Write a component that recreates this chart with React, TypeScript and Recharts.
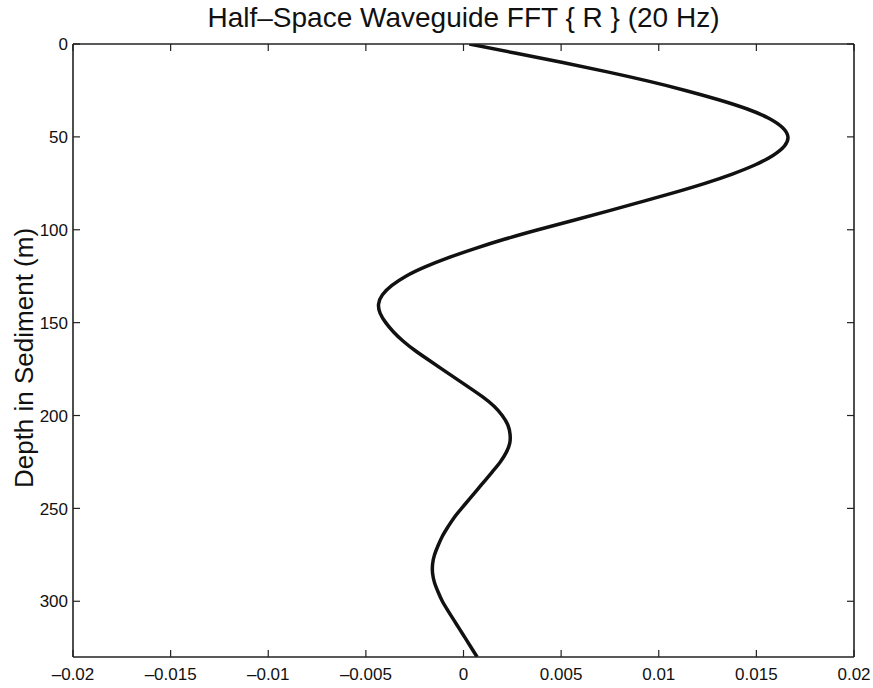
import React from 'react';
import { LineChart, Line, XAxis, YAxis, Label } from 'recharts';

const depths = [0, 5, 10, 15, 20, 25, 30, 35, 40, 45, 50, 55, 60, 65, 70, 75, 80, 85, 90, 95, 100, 105, 110, 115, 120, 125, 130, 135, 140, 145, 150, 155, 160, 165, 170, 175, 180, 185, 190, 195, 200, 205, 210, 215, 220, 225, 230, 235, 240, 245, 250, 255, 260, 265, 270, 275, 280, 285, 290, 295, 300, 305, 310, 315, 320, 325, 330];
const realR = [0.0003, 0.0027, 0.0051, 0.0074, 0.0095, 0.0114, 0.0131, 0.0146, 0.0157, 0.0164, 0.0167, 0.0165, 0.0159, 0.015, 0.0138, 0.0124, 0.0108, 0.0091, 0.0074, 0.0056, 0.0038, 0.0021, 0.0006, -0.0008, -0.002, -0.003, -0.0037, -0.0042, -0.0044, -0.0043, -0.004, -0.0036, -0.0031, -0.0025, -0.0018, -0.0011, -0.0004, 0.0003, 0.001, 0.0016, 0.002, 0.0023, 0.0024, 0.0024, 0.0022, 0.0019, 0.0015, 0.0011, 0.0007, 0.0003, -0.0001, -0.0005, -0.0008, -0.0011, -0.0013, -0.0015, -0.0016, -0.0016, -0.0015, -0.0013, -0.0011, -0.0008, -0.0005, -0.0002, 0.0001, 0.0004, 0.0007];
const xTicks = [-0.02, -0.015, -0.01, -0.005, 0, 0.005, 0.01, 0.015, 0.02];
const yTicks = [0, 50, 100, 150, 200, 250, 300];
const titleText = 'Half\u2013Space Waveguide FFT { R } (20 Hz)';
const yLabelText = 'Depth in Sediment (m)';

const data = depths.map((d, i) => ({ depth: d, r: realR[i] }));

const FONT = '"Liberation Sans", Arial, Helvetica, sans-serif';
const AXIS = '#222';
const TICK_LEN = 7;

const fmtX = (v: number) => String(v).replace('-', '\u2013');

const BottomTick = (props: any) => {
  const { x, y, payload } = props;
  return (
    <g>
      <line x1={x} y1={y} x2={x} y2={y - TICK_LEN} stroke={AXIS} strokeWidth={1.2} />
      <text x={x} y={y + 23} textAnchor="middle" fontSize={17} fontFamily={FONT} fill="#111">
        {fmtX(payload.value)}
      </text>
    </g>
  );
};

const TopTick = (props: any) => {
  const { x, y } = props;
  return <line x1={x} y1={y} x2={x} y2={y + TICK_LEN} stroke={AXIS} strokeWidth={1.2} />;
};

const LeftTick = (props: any) => {
  const { x, y, payload } = props;
  return (
    <g>
      <line x1={x} y1={y} x2={x + TICK_LEN} y2={y} stroke={AXIS} strokeWidth={1.2} />
      <text x={x - 5} y={y} dy="0.36em" textAnchor="end" fontSize={17} fontFamily={FONT} fill="#111">
        {String(payload.value)}
      </text>
    </g>
  );
};

const RightTick = (props: any) => {
  const { x, y } = props;
  return <line x1={x} y1={y} x2={x - TICK_LEN} y2={y} stroke={AXIS} strokeWidth={1.2} />;
};

export default function App() {
  return (
    <div style={{ position: 'absolute', left: 0, top: 0, width: 873, height: 688, background: '#fff' }}>
      <LineChart
        layout="vertical"
        width={873}
        height={688}
        data={data}
        margin={{ top: 43, right: 18, bottom: 0, left: 0 }}
      >
        <XAxis
          xAxisId={0}
          type="number"
          domain={[-0.02, 0.02]}
          ticks={xTicks}
          interval={0}
          allowDataOverflow
          height={31}
          tickSize={0}
          tickMargin={0}
          tickLine={false}
          axisLine={{ stroke: AXIS, strokeWidth: 1.6 }}
          tick={<BottomTick />}
        />
        <XAxis
          xAxisId="top"
          orientation="top"
          type="number"
          domain={[-0.02, 0.02]}
          ticks={xTicks}
          interval={0}
          allowDataOverflow
          height={1}
          tickSize={0}
          tickMargin={0}
          tickLine={false}
          axisLine={{ stroke: AXIS, strokeWidth: 1.6 }}
          tick={<TopTick />}
        >
          <Label
            content={(p: any) => {
              const vb = p.viewBox || { x: 73, y: 44, width: 781 };
              return (
                <text x={vb.x + vb.width / 2} y={27} textAnchor="middle" fontSize={28} fontFamily={FONT} fill="#111">
                  {titleText}
                </text>
              );
            }}
          />
        </XAxis>
        <YAxis
          yAxisId={0}
          type="number"
          dataKey="depth"
          domain={[0, 330]}
          ticks={yTicks}
          interval={0}
          allowDataOverflow
          width={73}
          tickSize={0}
          tickMargin={0}
          tickLine={false}
          axisLine={{ stroke: AXIS, strokeWidth: 1.6 }}
          tick={<LeftTick />}
        >
          <Label
            content={() => {
              const cy = 358;
              return (
                <text x={24} y={cy} transform={`rotate(-90 24 ${cy})`} textAnchor="middle" dominantBaseline="central" fontSize={26} fontFamily={FONT} fill="#111">
                  {yLabelText}
                </text>
              );
            }}
          />
        </YAxis>
        <YAxis
          yAxisId="right"
          orientation="right"
          type="number"
          dataKey="depth"
          domain={[0, 330]}
          ticks={yTicks}
          interval={0}
          allowDataOverflow
          width={1}
          tickSize={0}
          tickMargin={0}
          tickLine={false}
          axisLine={{ stroke: AXIS, strokeWidth: 1.6 }}
          tick={<RightTick />}
        />
        <Line
          xAxisId="top"
          yAxisId="right"
          type="basis"
          dataKey="r"
          stroke="none"
          strokeWidth={0}
          dot={false}
          activeDot={false}
          legendType="none"
          isAnimationActive={false}
        />
        <Line
          xAxisId={0}
          yAxisId={0}
          type="basis"
          dataKey="r"
          stroke="#111"
          strokeWidth={3.5}
          dot={false}
          isAnimationActive={false}
        />
      </LineChart>
    </div>
  );
}
